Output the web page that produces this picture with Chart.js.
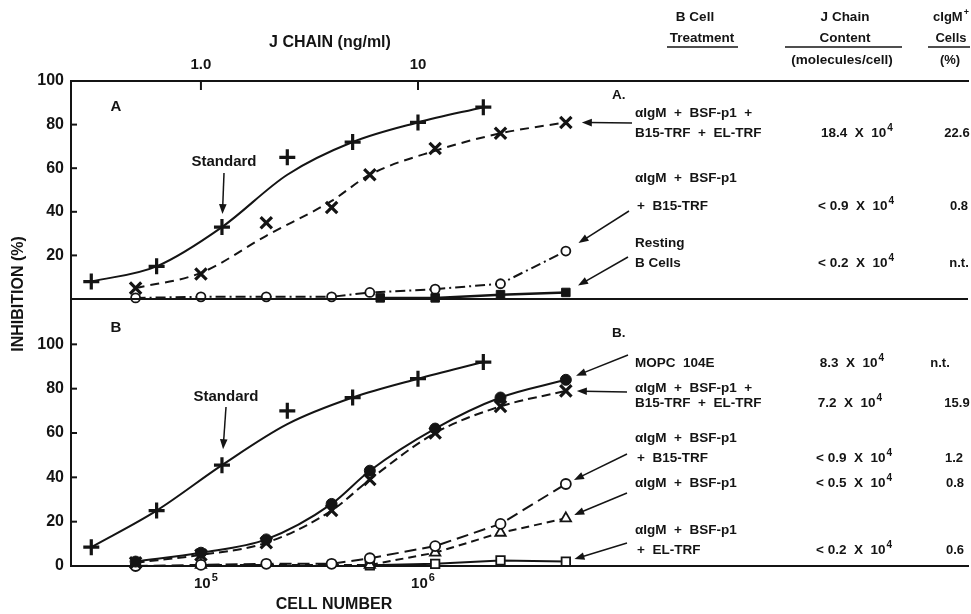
<!DOCTYPE html>
<html>
<head>
<meta charset="utf-8">
<script src="https://cdn.jsdelivr.net/npm/chart.js@4"></script>
<style>
  html, body { margin: 0; padding: 0; background: #fff; }
  #wrap { position: relative; width: 971px; height: 614px; }
  canvas { position: absolute; left: 0; top: 0; }
</style>
</head>
<body>
<div id="wrap">
  <canvas id="panelA" width="971" height="614"></canvas>
  <canvas id="panelB" width="971" height="614"></canvas>
</div>
<script>
// J chain standard, ng/ml (top axis)
var stdConc = [0.3125, 0.625, 1.25, 2.5, 5, 10, 20];
var stdA = [8, 15, 33, 65, 72, 81, 88];       // measured points, panel A
var stdFitA = [8, 15, 33, 57, 72, 81, 88];    // drawn standard curve, panel A
var stdB = [8.5, 25, 45.5, 70, 76, 84.5, 92];
var stdFitB = [8.5, 25, 45.5, 64, 76, 84.5, 92];

// cell number (bottom axis)
var cells = [5e4, 1e5, 2e5, 4e5, 6e5, 1.2e6, 2.4e6, 4.8e6];
var aFull = [5, 11.5, 35, 42, 57, 69, 76, 81];      // aIgM + BSF-p1 + B15-TRF + EL-TRF
var aFullFit = [5, 12, 29, 45, 57, 68, 76, 81];
var aB15 = [0.5, 1, 1, 1, 3, 4.5, 7, 22];           // aIgM + BSF-p1 + B15-TRF
var restCells = [6.7e5, 1.2e6, 2.4e6, 4.8e6];
var aRest = [0.5, 0.5, 2, 3];                        // resting B cells

var bMopc = [2, 6, 12, 28, 43, 62, 76, 84];          // MOPC 104E
var bFull = [1.5, 5, 10.5, 25, 39, 60, 72, 79];
var bB15 = [0, 0.5, 1, 1, 3.5, 9, 19, 37];
var bsfCells = [1e5, 6e5, 1.2e6, 2.4e6, 4.8e6];
var bBsf = [0.5, 0.5, 6, 15, 21.5];                  // aIgM + BSF-p1
var elCells = [6e5, 1.2e6, 2.4e6, 4.8e6];
var bEl = [0.3, 1, 2.5, 2];                          // aIgM + BSF-p1 + EL-TRF

var jTicks = [1, 10];
var jTickLabels = ['1.0', '10'];
var cellTicks = [1e5, 1e6];
var cellTickLabels = ['10^5', '10^6'];
var yTicksA = [20, 40, 60, 80, 100];
var yTicksB = [0, 20, 40, 60, 80, 100];

var FONT = '"Liberation Sans", Arial, Helvetica, sans-serif';
var INK = '#141414';
var X_MIN = 2.52e4, X_MAX = 3.42e8;   // span of the plot box in cells
var NG_PER_CELL = 1e-5;              // 1 ng/ml sits over 1e5 cells

Chart.defaults.font.family = FONT;
Chart.defaults.color = INK;
Chart.defaults.animation = false;

function pts(xs, ys) {
  return xs.map(function (x, i) { return { x: x, y: ys[i] }; });
}
function curve(xs, ys, axis, dash, smooth, width) {
  return {
    data: pts(xs, ys), xAxisID: axis, showLine: true, pointRadius: 0,
    borderColor: INK, borderWidth: width || 2, borderDash: dash || [],
    cubicInterpolationMode: smooth ? 'monotone' : 'default', tension: 0,
    order: 1, clip: false
  };
}
function marks(xs, ys, axis, style, r, fill, bw) {
  return {
    data: pts(xs, ys), xAxisID: axis, showLine: false, pointStyle: style,
    pointRadius: r, pointHoverRadius: r, pointBackgroundColor: fill,
    pointBorderColor: INK, pointBorderWidth: bw, order: 0, clip: false
  };
}
function fixedTicks(values) {
  return function (scale) { scale.ticks = values.map(function (v) { return { value: v }; }); };
}

function rich(ctx, str, x, y, align, size) {
  // text after '^' is a superscript
  var parts = str.split('^'), base = parts[0], sup = parts[1] || '';
  var f1 = 'bold ' + size + 'px ' + FONT, f2 = 'bold ' + Math.round(size * 0.72) + 'px ' + FONT;
  ctx.font = f1; var wb = ctx.measureText(base).width;
  ctx.font = f2; var ws = sup ? ctx.measureText(sup).width + 1 : 0;
  var w = wb + ws;
  var x0 = align === 'center' ? x - w / 2 : (align === 'right' ? x - w : x);
  ctx.textAlign = 'left'; ctx.textBaseline = 'middle';
  ctx.font = f1; ctx.fillText(base, x0, y);
  if (sup) { ctx.font = f2; ctx.fillText(sup, x0 + wb + 1, y - size * 0.38); }
}
function seg(ctx, x1, y1, x2, y2) {
  ctx.beginPath(); ctx.moveTo(x1, y1); ctx.lineTo(x2, y2); ctx.stroke();
}
function arrow(ctx, x1, y1, x2, y2) {
  var a = Math.atan2(y2 - y1, x2 - x1), L = 10, W = 3.8;
  seg(ctx, x1, y1, x2 - Math.cos(a) * L * 0.7, y2 - Math.sin(a) * L * 0.7);
  ctx.beginPath();
  ctx.moveTo(x2, y2);
  ctx.lineTo(x2 - L * Math.cos(a) + W * Math.sin(a), y2 - L * Math.sin(a) - W * Math.cos(a));
  ctx.lineTo(x2 - L * Math.cos(a) - W * Math.sin(a), y2 - L * Math.sin(a) + W * Math.cos(a));
  ctx.closePath(); ctx.fill();
}
// arrow from a label towards a point of a series
function pointAt(ctx, chart, axis, xs, ys, idx, tx, ty, gap) {
  var px = chart.scales[axis].getPixelForValue(xs[idx]);
  var py = chart.scales.y.getPixelForValue(ys[idx]);
  var dx = tx - px, dy = ty - py, d = Math.sqrt(dx * dx + dy * dy);
  arrow(ctx, tx, ty, px + dx / d * gap, py + dy / d * gap);
}
function inwardTicks(ctx, chart, yTicks) {
  var a = chart.chartArea, sy = chart.scales.y;
  yTicks.forEach(function (v) {
    var p = sy.getPixelForValue(v);
    seg(ctx, a.left, p, a.left + 6, p);
  });
}

var decorA = {
  id: 'decorA',
  afterDraw: function (chart) {
    var ctx = chart.ctx, a = chart.chartArea, sj = chart.scales.xj;
    ctx.save();
    ctx.strokeStyle = INK; ctx.fillStyle = INK; ctx.lineWidth = 2;
    seg(ctx, a.left - 1, a.bottom, a.right, a.bottom);
    inwardTicks(ctx, chart, yTicksA);
    jTicks.forEach(function (v, i) {
      var p = sj.getPixelForValue(v);
      seg(ctx, p, a.top, p, a.top + 9);
      rich(ctx, jTickLabels[i], p, 65, 'center', 15);
    });

    rich(ctx, 'J CHAIN (ng/ml)', 330, 43, 'center', 16);
    rich(ctx, 'A', 116, 107, 'center', 15);
    rich(ctx, 'Standard', 224, 162, 'center', 15);
    ctx.lineWidth = 1.5;
    pointAt(ctx, chart, 'xj', stdConc, stdA, 2, 224, 173, 13);

    // table header
    rich(ctx, 'B Cell', 695, 17, 'center', 13.5);
    rich(ctx, 'Treatment', 702, 38, 'center', 13.5);
    rich(ctx, 'J Chain', 845, 17, 'center', 13.5);
    rich(ctx, 'Content', 845, 38, 'center', 13.5);
    rich(ctx, '(molecules/cell)', 842, 60, 'center', 13.5);
    rich(ctx, 'cIgM^+', 951, 17, 'center', 13);
    rich(ctx, 'Cells', 951, 38, 'center', 13);
    rich(ctx, '(%)', 950, 60, 'center', 13);
    seg(ctx, 667, 47, 738, 47);
    seg(ctx, 785, 47, 902, 47);
    seg(ctx, 928, 47, 970, 47);

    rich(ctx, 'A.', 612, 95, 'left', 13.5);
    rich(ctx, '\u03b1IgM  +  BSF-p1  +', 635, 113, 'left', 13.5);
    rich(ctx, 'B15-TRF  +  EL-TRF', 635, 133, 'left', 13.5);
    rich(ctx, '18.4  X  10^4', 857, 133, 'center', 13.5);
    rich(ctx, '22.6', 957, 133, 'center', 13);
    rich(ctx, '\u03b1IgM  +  BSF-p1', 635, 178, 'left', 13.5);
    rich(ctx, '+  B15-TRF', 637, 206, 'left', 13.5);
    rich(ctx, '< 0.9  X  10^4', 856, 206, 'center', 13.5);
    rich(ctx, '0.8', 959, 206, 'center', 13);
    rich(ctx, 'Resting', 635, 243, 'left', 13.5);
    rich(ctx, 'B Cells', 635, 263, 'left', 13.5);
    rich(ctx, '< 0.2  X  10^4', 856, 263, 'center', 13.5);
    rich(ctx, 'n.t.', 959, 263, 'center', 13);

    pointAt(ctx, chart, 'x', cells, aFull, cells.length - 1, 632, 123, 16);
    pointAt(ctx, chart, 'x', cells, aB15, cells.length - 1, 629, 211, 15);
    pointAt(ctx, chart, 'x', restCells, aRest, restCells.length - 1, 628, 257, 14);
    ctx.restore();
  }
};

var decorB = {
  id: 'decorB',
  afterDraw: function (chart) {
    var ctx = chart.ctx, sx = chart.scales.x;
    ctx.save();
    ctx.strokeStyle = INK; ctx.fillStyle = INK; ctx.lineWidth = 2;
    inwardTicks(ctx, chart, yTicksB);
    cellTicks.forEach(function (v, i) {
      rich(ctx, cellTickLabels[i], sx.getPixelForValue(v) + 5, 584, 'center', 15);
    });

    rich(ctx, 'CELL NUMBER', 334, 605, 'center', 16);
    ctx.save();
    ctx.translate(19, 294); ctx.rotate(-Math.PI / 2);
    rich(ctx, 'INHIBITION (%)', 0, 0, 'center', 16);
    ctx.restore();

    rich(ctx, 'B', 116, 328, 'center', 15);
    rich(ctx, 'Standard', 226, 397, 'center', 15);
    ctx.lineWidth = 1.5;
    pointAt(ctx, chart, 'xj', stdConc, stdB, 2, 226, 407, 16);

    rich(ctx, 'B.', 612, 333, 'left', 13.5);
    rich(ctx, 'MOPC  104E', 635, 363, 'left', 13.5);
    rich(ctx, '8.3  X  10^4', 852, 363, 'center', 13.5);
    rich(ctx, 'n.t.', 940, 363, 'center', 13);
    rich(ctx, '\u03b1IgM  +  BSF-p1  +', 635, 388, 'left', 13.5);
    rich(ctx, 'B15-TRF  +  EL-TRF', 635, 403, 'left', 13.5);
    rich(ctx, '7.2  X  10^4', 850, 403, 'center', 13.5);
    rich(ctx, '15.9', 957, 403, 'center', 13);
    rich(ctx, '\u03b1IgM  +  BSF-p1', 635, 438, 'left', 13.5);
    rich(ctx, '+  B15-TRF', 637, 458, 'left', 13.5);
    rich(ctx, '< 0.9  X  10^4', 854, 458, 'center', 13.5);
    rich(ctx, '1.2', 954, 458, 'center', 13);
    rich(ctx, '\u03b1IgM  +  BSF-p1', 635, 483, 'left', 13.5);
    rich(ctx, '< 0.5  X  10^4', 854, 483, 'center', 13.5);
    rich(ctx, '0.8', 955, 483, 'center', 13);
    rich(ctx, '\u03b1IgM  +  BSF-p1', 635, 530, 'left', 13.5);
    rich(ctx, '+  EL-TRF', 637, 550, 'left', 13.5);
    rich(ctx, '< 0.2  X  10^4', 854, 550, 'center', 13.5);
    rich(ctx, '0.6', 955, 550, 'center', 13);

    var last = cells.length - 1;
    pointAt(ctx, chart, 'x', cells, bMopc, last, 628, 355, 11);
    pointAt(ctx, chart, 'x', cells, bFull, last, 627, 392, 11);
    pointAt(ctx, chart, 'x', cells, bB15, last, 627, 454, 9);
    pointAt(ctx, chart, 'x', bsfCells, bBsf, bsfCells.length - 1, 627, 493, 9);
    pointAt(ctx, chart, 'x', elCells, bEl, elCells.length - 1, 627, 543, 9);
    ctx.restore();
  }
};

var tickFont = { size: 16, weight: 'bold' };
var axisLine = { display: true, color: INK, width: 2 };
var noGrid = { display: false, drawTicks: false };

new Chart(document.getElementById('panelA'), {
  type: 'scatter',
  data: {
    datasets: [
      marks(stdConc, stdA, 'xj', 'cross', 8, INK, 3.2),
      curve(stdConc, stdFitA, 'xj', [], true),
      marks(cells, aFull, 'x', 'crossRot', 8, INK, 3.2),
      curve(cells, aFullFit, 'x', [9, 6], true),
      marks(cells, aB15, 'x', 'circle', 4.5, '#fff', 1.8),
      curve(cells, aB15, 'x', [10, 4, 2, 4], false),
      marks(restCells, aRest, 'x', 'rect', 6, INK, 1),
      curve(restCells, aRest, 'x', [], false, 2.5)
    ]
  },
  options: {
    responsive: false,
    devicePixelRatio: 1,
    layout: { autoPadding: false, padding: { left: 0, right: 3, top: 0, bottom: 315 } },
    plugins: { legend: { display: false }, tooltip: { enabled: false } },
    scales: {
      x: { type: 'logarithmic', min: X_MIN, max: X_MAX, display: false },
      xj: {
        type: 'logarithmic', position: 'top',
        min: X_MIN * NG_PER_CELL, max: X_MAX * NG_PER_CELL,
        afterBuildTicks: fixedTicks(jTicks),
        ticks: { display: false },
        grid: noGrid,
        border: axisLine,
        afterFit: function (s) { s.height = 81; }
      },
      y: {
        min: 0, max: 100,
        afterBuildTicks: fixedTicks(yTicksA),
        ticks: { font: tickFont, padding: 7 },
        grid: noGrid,
        border: axisLine,
        afterFit: function (s) { s.width = 71; }
      }
    }
  },
  plugins: [decorA]
});

new Chart(document.getElementById('panelB'), {
  type: 'scatter',
  data: {
    datasets: [
      marks(stdConc, stdB, 'xj', 'cross', 8, INK, 3.2),
      curve(stdConc, stdFitB, 'xj', [], true),
      marks(cells, bMopc, 'x', 'circle', 5.5, INK, 1),
      curve(cells, bMopc, 'x', [], true),
      marks(cells, bFull, 'x', 'crossRot', 8, INK, 3.2),
      curve(cells, bFull, 'x', [9, 5], true),
      marks(cells, bB15, 'x', 'circle', 5, '#fff', 1.8),
      curve(cells, bB15, 'x', [12, 6], false),
      marks(bsfCells, bBsf, 'x', 'triangle', 6, '#fff', 1.8),
      curve(bsfCells, bBsf, 'x', [8, 5], false),
      marks(elCells, bEl, 'x', 'rect', 6, '#fff', 1.8),
      curve(elCells, bEl, 'x', [], false)
    ]
  },
  options: {
    responsive: false,
    devicePixelRatio: 1,
    layout: { autoPadding: false, padding: { left: 0, right: 3, top: 300, bottom: 0 } },
    plugins: { legend: { display: false }, tooltip: { enabled: false } },
    scales: {
      x: {
        type: 'logarithmic', position: 'bottom', min: X_MIN, max: X_MAX,
        afterBuildTicks: fixedTicks(cellTicks),
        ticks: { display: false },
        grid: noGrid,
        border: axisLine,
        afterFit: function (s) { s.height = 48; }
      },
      xj: { type: 'logarithmic', min: X_MIN * NG_PER_CELL, max: X_MAX * NG_PER_CELL, display: false },
      y: {
        min: 0, max: 120,
        afterBuildTicks: fixedTicks(yTicksB),
        ticks: { font: tickFont, padding: 7 },
        grid: noGrid,
        border: axisLine,
        afterFit: function (s) { s.width = 71; }
      }
    }
  },
  plugins: [decorB]
});
</script>
</body>
</html>
